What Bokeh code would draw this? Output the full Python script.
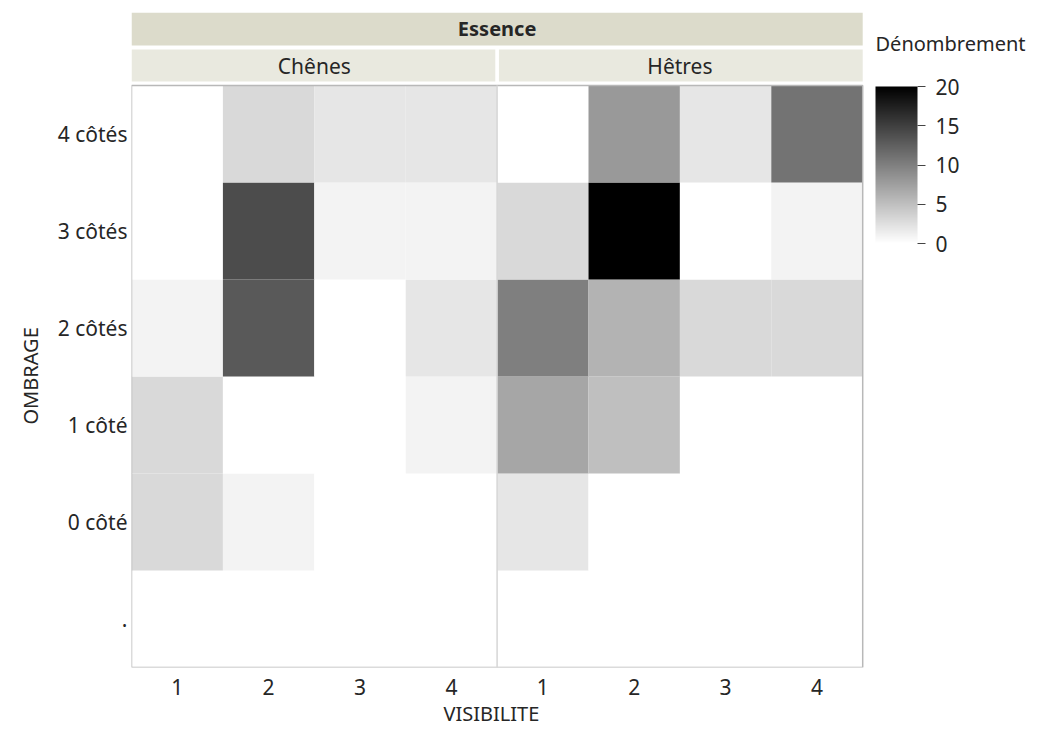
import math
from bokeh.plotting import figure
from bokeh.models import (Range1d, FixedTicker, ColorBar, LinearColorMapper,
                          Title, ColumnDataSource)
from bokeh.embed import file_html
from bokeh.resources import INLINE
from bokeh.core.properties import value

# ---------------- data ----------------
essences = ["Chênes", "Hêtres"]
visibilite = ["1", "2", "3", "4"]
ombrage = [".", "0 côté", "1 côté", "2 côtés", "3 côtés", "4 côtés"]  # bottom -> top
# counts[row][col]; rows follow `ombrage`, cols follow `visibilite`
chenes = [
    [0, 0, 0, 0],
    [3, 1, 0, 0],
    [3, 0, 0, 1],
    [1, 13, 0, 2],
    [0, 14, 1, 1],
    [0, 3, 2, 2],
]
hetres = [
    [0, 0, 0, 0],
    [2, 0, 0, 0],
    [7, 5, 0, 0],
    [10, 6, 3, 3],
    [3, 20, 0, 1],
    [0, 8, 2, 11],
]
color_ticks = [0, 5, 10, 15, 20]

FONT = "Noto Sans"
TXT = "#262626"
FS = "21px"

ncol = len(visibilite)
nrow = len(ombrage)
npan = len(essences)

xs, ys, vals = [], [], []
for e, table in enumerate([chenes, hetres]):
    for r, row in enumerate(table):
        for c, v in enumerate(row):
            xs.append(e * ncol + c + 0.5)
            ys.append(r + 0.5)
            vals.append(v)
src = ColumnDataSource(dict(x=xs, y=ys, v=vals))

palette = ["#%02x%02x%02x" % (g, g, g) for g in range(255, -1, -1)]
mapper = LinearColorMapper(palette=palette, low=0, high=20)

ytop = nrow + 0.753
xend = 10.0   # frame extends to the right edge (room for colour bar & its title)

p = figure(width=1045, height=729, x_range=Range1d(0, xend),
           y_range=Range1d(0, ytop), output_backend="svg", toolbar_location=None,
           min_border_left=131, min_border_right=0, min_border_top=12,
           min_border_bottom=62)
p.outline_line_color = None
p.grid.visible = False
p.background_fill_color = "white"
p.border_fill_color = "white"

p.rect(x="x", y="y", width=1, height=1, source=src,
       fill_color={"field": "v", "transform": mapper}, line_color=None)

# frame of data area and panel separator
p.quad(left=[0], right=[npan * ncol], bottom=[0], top=[nrow],
       fill_color=None, line_color="#b8b8b8", line_width=1.5)
p.segment(x0=[ncol], y0=[0], x1=[ncol], y1=[nrow], line_color="#d6d6d6", line_width=1.5)

# header bands
p.quad(left=[0], right=[npan * ncol], bottom=[nrow + 0.412], top=[ytop],
       fill_color="#dcdbcb", line_color=None)
gap = 0.02
p.quad(left=[e * ncol + (gap if e > 0 else 0) for e in range(npan)],
       right=[(e + 1) * ncol - (gap if e < npan - 1 else 0) for e in range(npan)],
       bottom=[nrow + 0.041] * npan, top=[nrow + 0.372] * npan,
       fill_color="#e9e9df", line_color=None)
p.text(x=[npan * ncol / 2], y=[nrow + 0.585], text=["Essence"],
       text_font=value(FONT), text_font_size="20px", text_font_style="bold",
       text_align="center", text_baseline="middle", text_color=TXT)
p.text(x=[e * ncol + ncol / 2 for e in range(npan)], y=[nrow + 0.205] * npan,
       text=essences, text_font=value(FONT), text_font_size=FS,
       text_align="center", text_baseline="middle", text_color=TXT)

# axes
xt = [i + 0.5 for i in range(npan * ncol)]
p.xaxis.ticker = FixedTicker(ticks=xt)
p.xaxis.major_label_overrides = {t: visibilite[i % ncol] for i, t in enumerate(xt)}
yt = [i + 0.5 for i in range(nrow)]
p.yaxis.ticker = FixedTicker(ticks=yt)
p.yaxis.major_label_overrides = {t: ombrage[i] for i, t in enumerate(yt)}

for ax in (p.xaxis[0], p.yaxis[0]):
    ax.axis_line_color = None
    ax.major_tick_line_color = None
    ax.minor_tick_line_color = None
    ax.major_tick_out = 0
    ax.major_tick_in = 0
    ax.major_label_text_font = FONT
    ax.major_label_text_font_size = FS
    ax.major_label_text_color = TXT
p.xaxis.major_label_standoff = 11
p.yaxis.major_label_standoff = 4

# axis titles (positioned under / beside the data area only)
p.add_layout(Title(text="OMBRAGE", align="left", offset=243, standoff=22,
                   text_font=FONT, text_font_size="20px", text_font_style="normal",
                   text_color=TXT), "left")
p.add_layout(Title(text="VISIBILITE", align="left", offset=312, standoff=0,
                   text_font=FONT, text_font_size="20px", text_font_style="normal",
                   text_color=TXT), "below")

# colour-bar title (inside the extended frame)
p.text(x=[8.14], y=[ytop - 0.32], text=["Dénombrement"],
       text_font=value(FONT), text_font_size="20px",
       text_align="left", text_baseline="middle", text_color=TXT)

cb = ColorBar(color_mapper=mapper, ticker=FixedTicker(ticks=color_ticks),
              width=42, height=157, location=(744, 424), padding=0, margin=0,
              major_label_text_font=FONT, major_label_text_font_size=FS,
              major_label_text_color=TXT, label_standoff=10,
              major_tick_in=0, major_tick_out=8, major_tick_line_color="#444444",
              bar_line_color=None, background_fill_color=None, border_line_color=None)
p.add_layout(cb, "center")

open("out.html", "w").write(file_html(p, INLINE))
